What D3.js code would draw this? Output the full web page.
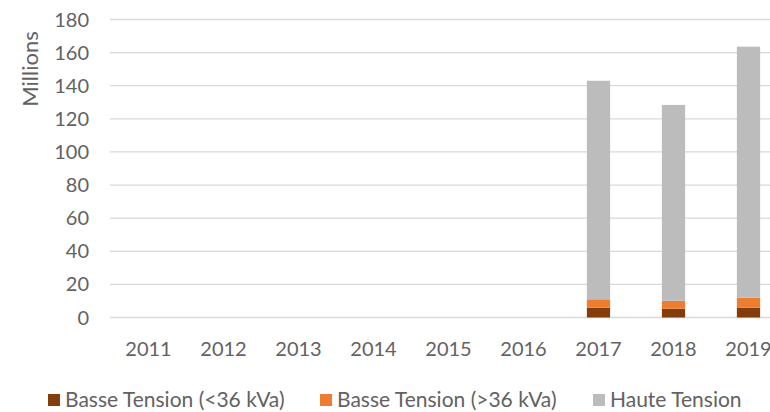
<!DOCTYPE html>
<html lang="fr">
<head>
  <meta charset="UTF-8">
  <title>Consommation par tension</title>
  <script src="https://d3js.org/d3.v7.min.js"></script>
  <style>
    body {
      margin: 0;
      background: #fff;
    }
    svg {
      display: block;
      font-family: Lato, "Open Sans", sans-serif;
    }
    .tick-label, .legend-label, .axis-title {
      fill: #626262;
      font-size: 20px;
    }
    .legend-label {
      font-size: 21px;
    }
    .axis-title {
      font-size: 22px;
    }
    .grid line {
      stroke: #d9d9d9;
      stroke-width: 1.3px;
    }
  </style>
</head>
<body>
  <svg id="chart"></svg>

  <script>
    // Data (millions)
    const years = ["2011", "2012", "2013", "2014", "2015", "2016", "2017", "2018", "2019"];
    const basseMoins36 = [0, 0, 0, 0, 0, 0, 5.9, 5.3, 5.9];
    const bassePlus36 = [0, 0, 0, 0, 0, 0, 5.1, 4.8, 6.1];
    const hauteTension = [0, 0, 0, 0, 0, 0, 132, 118.3, 151.6];
    const yTicks = [0, 20, 40, 60, 80, 100, 120, 140, 160, 180];
    const seriesNames = ["Basse Tension (<36 kVa)", "Basse Tension (>36 kVa)", "Haute Tension"];
    const seriesColors = ["#843c0c", "#ed7d31", "#bcbcbc"];

    const width = 770, height = 412;

    const svg = d3.select("#chart")
      .attr("width", width)
      .attr("height", height);

    // Scales
    const x = d3.scaleBand()
      .domain(years)
      .range([111, 786])
      .paddingInner(0.69)
      .paddingOuter(0.345);

    const y = d3.scaleLinear()
      .domain([0, 180])
      .range([317.5, 19.5]);

    // Gridlines
    svg.append("g")
      .attr("class", "grid")
      .selectAll("line")
      .data(yTicks)
      .join("line")
      .attr("x1", 110)
      .attr("x2", 786)
      .attr("y1", d => y(d))
      .attr("y2", d => y(d));

    // Y labels
    svg.append("g")
      .selectAll("text")
      .data(yTicks)
      .join("text")
      .attr("class", "tick-label")
      .attr("x", 89)
      .attr("y", d => y(d))
      .attr("dy", "0.35em")
      .attr("text-anchor", "end")
      .text(d => d);

    svg.append("text")
      .attr("class", "axis-title")
      .attr("transform", "translate(38,69) rotate(-90)")
      .attr("text-anchor", "middle")
      .text("Millions");

    // X labels
    svg.append("g")
      .selectAll("text")
      .data(years)
      .join("text")
      .attr("class", "tick-label")
      .attr("x", d => x(d) + x.bandwidth() / 2)
      .attr("y", 349)
      .attr("dy", "0.35em")
      .attr("text-anchor", "middle")
      .text(d => d);

    // Stacked bars
    const rows = years.map((yr, i) => ({
      year: yr,
      s0: basseMoins36[i],
      s1: bassePlus36[i],
      s2: hauteTension[i]
    }));
    const stack = d3.stack().keys(["s0", "s1", "s2"])(rows);

    svg.append("g")
      .selectAll("g")
      .data(stack)
      .join("g")
      .attr("fill", (d, i) => seriesColors[i])
      .selectAll("rect")
      .data(d => d.filter(p => p[1] - p[0] > 0))
      .join("rect")
      .attr("x", d => x(d.data.year))
      .attr("width", x.bandwidth())
      .attr("y", d => y(d[1]))
      .attr("height", d => y(d[0]) - y(d[1]));

    // Legend
    const legendX = [48, 320, 593];
    const legend = svg.append("g")
      .selectAll("g")
      .data(seriesNames)
      .join("g")
      .attr("transform", (d, i) => `translate(${legendX[i]},400)`);

    legend.append("rect")
      .attr("x", 0)
      .attr("y", -6)
      .attr("width", 12)
      .attr("height", 12)
      .attr("fill", (d, i) => seriesColors[i]);

    legend.append("text")
      .attr("class", "legend-label")
      .attr("x", 17)
      .attr("y", 0)
      .attr("dy", "0.35em")
      .text(d => d);
  </script>
</body>
</html>
